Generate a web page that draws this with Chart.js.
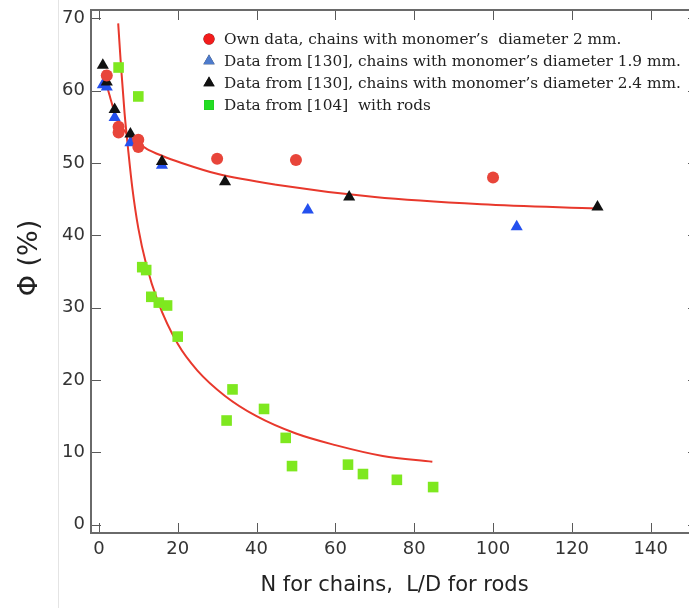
<!DOCTYPE html>
<html>
<head>
<meta charset="utf-8">
<script src="https://cdn.jsdelivr.net/npm/chart.js@4.4.0/dist/chart.umd.min.js"></script>
<style>
  html, body { margin: 0; padding: 0; background: #fff; overflow: hidden; }
  #wrap { position: relative; width: 720px; height: 608px; }
  #edge { position: absolute; left: 58px; top: 0; width: 1px; height: 608px; background: #e4e4e4; }
  canvas { position: absolute; left: 0; top: 0; }
</style>
</head>
<body>
<div id="wrap">
  <div id="edge"></div>
  <canvas id="chart-1" width="720" height="608"></canvas>
</div>
<script>
// own data, chains 2 mm
const ownN = [2, 5, 5, 10, 10, 30, 50, 100];
const ownPhi = [62.1, 55.0, 54.2, 53.2, 52.2, 50.6, 50.4, 48.0];
// data from [130], 1.9 mm
const blueN = [1, 2, 4, 8, 16, 53, 106];
const bluePhi = [60.8, 60.5, 56.3, 52.8, 49.7, 43.5, 41.2];
// data from [130], 2.4 mm
const blackN = [1, 2, 4, 8, 16, 32, 63.5, 126.5];
const blackPhi = [63.5, 61.2, 57.4, 54.0, 50.2, 47.4, 45.3, 43.9];
// data from [104], rods
const rodLD = [5, 10, 11, 12, 13.3, 15.2, 17.3, 20, 32.4, 33.9, 41.9, 47.4, 49, 63.2, 67, 75.6, 84.8];
const rodPhi = [63.2, 59.2, 35.6, 35.2, 31.5, 30.7, 30.3, 26.0, 14.4, 18.7, 16.0, 12.0, 8.1, 8.3, 7.0, 6.2, 5.2];
// fitted curves
const fitChainN = [1.3, 2, 2.8, 4, 6, 8.7, 12, 16, 21, 30, 45, 70, 97, 126.6];
const fitChainPhi = [62.8, 60.8, 59.2, 57.0, 54.8, 53.2, 52.0, 51.0, 50.0, 48.5, 47.0, 45.3, 44.3, 43.7];
const fitRodLD = [4.9, 5.6, 6.5, 7.4, 8.5, 10, 12, 15, 20, 25, 32, 40, 50, 60, 72, 84.6];
const fitRodPhi = [69.3, 63.5, 57.0, 52.0, 46.5, 41.0, 36.0, 30.8, 25.0, 21.3, 17.8, 15.0, 12.6, 11.0, 9.5, 8.7];

const xTicks = [0, 20, 40, 60, 80, 100, 120, 140];
const yTicks = [0, 10, 20, 30, 40, 50, 60, 70];

const legendLabels = [
  'Own data, chains with monomer\u2019s  diameter 2 mm.',
  'Data from [130], chains with monomer\u2019s diameter 1.9 mm.',
  'Data from [130], chains with monomer\u2019s diameter 2.4 mm.',
  'Data from [104]  with rods'
];
const legendStyles = ['circle', 'triangle', 'triangle', 'rect'];
const legendColors = ['#f21c1c', '#4d7bcc', '#111111', '#22dd22'];
const legendRadius = [5.5, 6.5, 6.5, 7];
const yTitle = '\u03a6 (%)';

function pts(xs, ys) {
  return xs.map((x, i) => ({ x: x, y: ys[i] }));
}

const frameTicks = {
  id: 'frameTicks',
  beforeDatasetsDraw(chart) {
    const ctx = chart.ctx;
    const a = chart.chartArea;
    const xs = chart.scales.x, ys = chart.scales.y;
    ctx.save();
    ctx.strokeStyle = '#5a5a5a';
    ctx.lineWidth = 1;
    xTicks.forEach(v => {
      const p = Math.round(xs.getPixelForValue(v)) + 0.5;
      ctx.beginPath();
      ctx.moveTo(p, a.bottom); ctx.lineTo(p, a.bottom - 10);
      ctx.moveTo(p, a.top); ctx.lineTo(p, a.top + 10);
      ctx.stroke();
    });
    yTicks.forEach(v => {
      const p = Math.round(ys.getPixelForValue(v)) + 0.5;
      ctx.beginPath();
      ctx.moveTo(a.left, p); ctx.lineTo(a.left + 10, p);
      ctx.moveTo(a.right, p); ctx.lineTo(a.right - 10, p);
      ctx.stroke();
    });
    ctx.strokeStyle = '#6a6a6a';
    ctx.lineWidth = 2;
    ctx.strokeRect(a.left, a.top, a.right - a.left, a.bottom - a.top);
    ctx.restore();
  }
};

const insideLegend = {
  id: 'insideLegend',
  afterDraw(chart) {
    const ctx = chart.ctx;
    ctx.save();
    ctx.font = '15.3px "DejaVu Serif"';
    ctx.textBaseline = 'middle';
    legendLabels.forEach((t, i) => {
      const y = 39 + i * 22;
      Chart.helpers.drawPoint(ctx, {
        pointStyle: legendStyles[i], radius: legendRadius[i], rotation: 0, borderWidth: 0
      }, 209, y);
      ctx.fillStyle = legendColors[i];
      ctx.fill();
      ctx.fillStyle = '#222';
      ctx.fillText(t, 224, y + 1);
    });
    // y axis title
    ctx.translate(30, 258);
    ctx.rotate(-Math.PI / 2);
    ctx.font = '27px "DejaVu Sans"';
    ctx.textAlign = 'center';
    ctx.fillStyle = '#222';
    ctx.fillText(yTitle, 0, 0);
    ctx.restore();
  }
};

const ctx1 = document.getElementById('chart-1').getContext('2d');
const myChart1 = new Chart(ctx1, {
  type: 'scatter',
  data: {
    datasets: [
      {
        label: 'fit chains',
        data: pts(fitChainN, fitChainPhi),
        showLine: true,
        borderColor: '#e8382c',
        borderWidth: 2,
        pointRadius: 0,
        cubicInterpolationMode: 'monotone',
        order: 10
      },
      {
        label: 'fit rods',
        data: pts(fitRodLD, fitRodPhi),
        showLine: true,
        borderColor: '#e8382c',
        borderWidth: 2,
        pointRadius: 0,
        cubicInterpolationMode: 'monotone',
        order: 10
      },
      {
        label: legendLabels[3],
        data: pts(rodLD, rodPhi),
        pointStyle: 'rect',
        pointRadius: 7.5,
        backgroundColor: '#7ee81f',
        borderWidth: 0,
        order: 4
      },
      {
        label: legendLabels[1],
        data: pts(blueN, bluePhi),
        pointStyle: 'triangle',
        pointRadius: 7,
        backgroundColor: '#2450ee',
        borderWidth: 0,
        order: 3
      },
      {
        label: legendLabels[2],
        data: pts(blackN, blackPhi),
        pointStyle: 'triangle',
        pointRadius: 7,
        backgroundColor: '#111111',
        borderWidth: 0,
        order: 2
      },
      {
        label: legendLabels[0],
        data: pts(ownN, ownPhi),
        pointStyle: 'circle',
        pointRadius: 6,
        backgroundColor: '#e8453a',
        borderWidth: 0,
        order: 1
      }
    ]
  },
  options: {
    responsive: false,
    animation: false,
    layout: { padding: { top: 10, right: 22, left: 0, bottom: 0 } },
    plugins: {
      legend: { display: false },
      tooltip: { enabled: false }
    },
    scales: {
      x: {
        type: 'linear',
        min: -2,
        max: 152,
        afterBuildTicks: s => { s.ticks = xTicks.map(v => ({ value: v })); },
        afterFit: s => { s.height = 75; s.paddingLeft = 0; s.paddingRight = 0; },
        grid: { display: false, drawTicks: false },
        border: { display: false },
        ticks: {
          padding: 6,
          color: '#333',
          font: { family: '"DejaVu Sans"', size: 18 },
          maxRotation: 0
        },
        title: {
          display: true,
          text: 'N for chains,  L/D for rods',
          color: '#222',
          font: { family: '"DejaVu Sans"', size: 21 },
          padding: { top: 0, bottom: 10 }
        }
      },
      y: {
        type: 'linear',
        min: -1.15,
        max: 71.15,
        afterBuildTicks: s => { s.ticks = yTicks.map(v => ({ value: v })); },
        afterFit: s => { s.width = 91; s.paddingTop = 0; s.paddingBottom = 0; },
        grid: { display: false, drawTicks: false },
        border: { display: false },
        ticks: {
          padding: 6,
          color: '#333',
          font: { family: '"DejaVu Sans"', size: 18 }
        }
      }
    }
  },
  plugins: [frameTicks, insideLegend]
});
</script>
</body>
</html>
